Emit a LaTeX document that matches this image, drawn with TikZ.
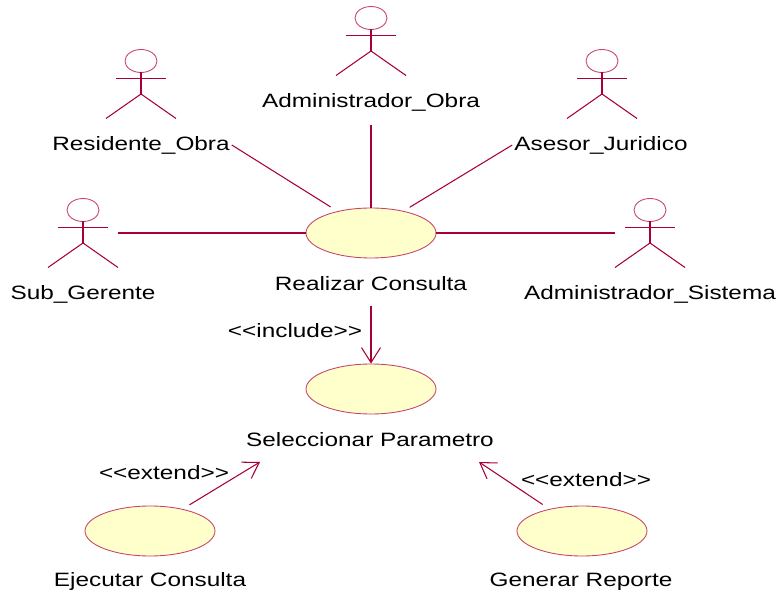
\documentclass[tikz,border=0pt]{standalone}
\usepackage{fontspec}
\usepackage{xcolor}
\setmainfont[FakeStretch=1.26]{Liberation Sans}
\usetikzlibrary{arrows.meta,shapes.geometric,positioning}

\definecolor{roseline}{HTML}{A80036}
\definecolor{rosefill}{HTML}{FFFFCB}
\definecolor{roseedge}{HTML}{C8446C}

\tikzset{
    actor/.pic={
        \draw [roseedge, line width=0.5pt] (0,0) ellipse (16 and 11.5);
        \draw [roseline, line width=0.6pt] (0,11.5) -- (0,33);
        \draw [roseline, line width=0.6pt] (-25,17.5) -- (25,17.5);
        \draw [roseline, line width=0.6pt] (-35,57.5) -- (0,33) -- (35,57.5);
        \coordinate (-left) at (-35,23);
        \coordinate (-right) at (35,23);
    }
}

\begin{document}
\begin{tikzpicture}[
    x=0.02cm,
    y=-0.02cm,
    usecase/.style={
        ellipse,
        draw=roseedge,
        fill=rosefill,
        line width=0.5pt,
        inner sep=0pt,
        minimum width=2.6cm,
        minimum height=1cm
    },
    caption/.style={
        font=\fontsize{11}{13}\selectfont,
        text=black,
        inner sep=1pt
    },
    line/.style={
        draw=roseline,
        line width=0.6pt
    },
    dep/.style={
        line,
        -{Straight Barb[length=0.3cm,width=0.38cm,line width=0.6pt]}
    }
]
\useasboundingbox (0,0) rectangle (778,594);

% Actors
\pic (admObra) at (371,18) {actor};
\pic (resObra) at (141,61) {actor};
\pic (asesor) at (602,61) {actor};
\pic (subGerente) at (83,210) {actor};
\pic (admSistema) at (650,210) {actor};

% Actor names
\node [caption] (admObraName) at (371,102) {Administrador\_Obra};
\node [caption] (resObraName) at (141,145) {Residente\_Obra};
\node [caption] (asesorName) at (601,145) {Asesor\_Juridico};
\node [caption] (subGerenteName) at (83,294) {Sub\_Gerente};
\node [caption] (admSistemaName) at (650,294) {Administrador\_Sistema};

% Use cases
\node [usecase] (consulta) at (371,233) {};
\node [usecase] (parametro) at (371,389) {};
\node [usecase] (ejecutar) at (150,531) {};
\node [usecase] (reporte) at (582,531) {};
\node [caption] (consultaName) at (371,284) {Realizar Consulta};
\node [caption] (parametroName) at (370,440) {Seleccionar Parametro};
\node [caption] (ejecutarName) at (150,582) {Ejecutar Consulta};
\node [caption] (reporteName) at (581,582) {Generar Reporte};

% Stereotypes
\node [caption] (includeName) at (295,331) {<{}<include>{}>};
\node [caption] (extendLeft) at (164,473) {<{}<extend>{}>};
\node [caption] (extendRight) at (586,480) {<{}<extend>{}>};

\coordinate (parametroLeft) at (260,462);
\coordinate (parametroRight) at (479,462);

% Edges
\path [line, shorten <=0.24cm] (admObraName.south) -- (consulta.north);
\path [line, shorten >=0.16cm] (resObraName.east) -- (consulta.147);
\path [line, shorten >=0.14cm] (asesorName.west) -- (consulta.34);
\path [line] (subGerente-right) -- (consulta.west);
\path [line] (consulta.east) -- (admSistema-left);
\path [dep, shorten <=0.25cm] (consultaName.south) -- (parametro.north);
\path [dep, shorten <=0.16cm] (ejecutar.34) -- (parametroLeft);
\path [dep, shorten <=0.16cm] (reporte.146) -- (parametroRight);

\end{tikzpicture}
\end{document}
